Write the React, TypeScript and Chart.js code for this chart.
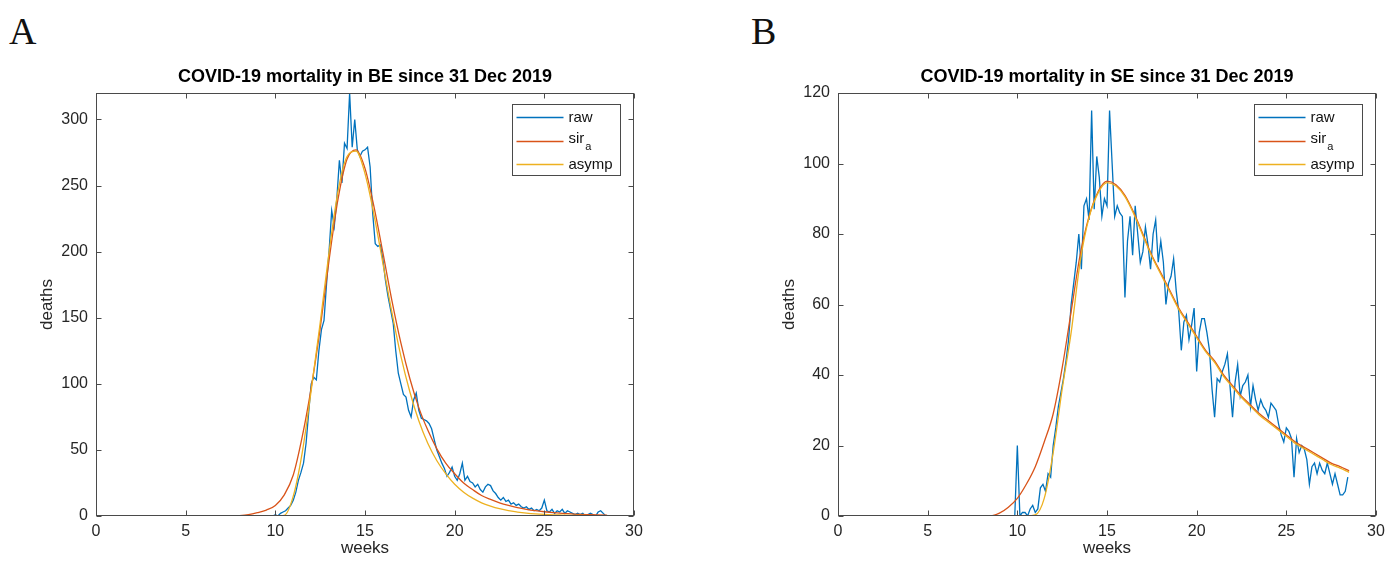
import React, { useEffect, useRef } from 'react';
import { Chart, registerables } from 'chart.js';

Chart.register(...registerables);

// ---------- data ----------
const xTicks = [0, 5, 10, 15, 20, 25, 30];
const beYTicks = [0, 50, 100, 150, 200, 250, 300];
const seYTicks = [0, 20, 40, 60, 80, 100, 120];
const beYMax = 320;
const seYMax = 120;
const xMax = 30;

// raw daily deaths; first value is day 63 after 31 Dec 2019 (week 9)
const rawFirstDay = 63;
const beRaw = [
  0, 0, 0, 0, 0, 0, 0,
  1, 0, 2, 3, 4, 6, 8,
  12, 18, 27, 33, 40, 55, 78,
  100, 105, 103, 125, 141, 148, 176,
  201, 231, 219, 240, 269, 252, 282,
  278, 320, 279, 300, 277, 272, 276,
  277, 279, 264, 229, 206, 204, 205,
  194, 178, 166, 156, 146, 125, 108,
  100, 92, 90, 80, 75, 88, 93,
  80, 74, 73, 72, 70, 66, 58,
  50, 45, 40, 36, 30, 33, 37,
  30, 27, 32, 40, 27, 30, 26,
  25, 22, 24, 20, 18, 22, 24,
  23, 19, 17, 14, 12, 14, 11,
  12, 9, 10, 8, 9, 7, 6,
  7, 5, 6, 4, 5, 4, 6,
  12, 4, 3, 5, 2, 4, 3,
  5, 2, 4, 3, 2, 1, 2,
  1, 2, 0, 1, 2, 1, 0,
  3, 4, 2, 0,
];
const seRaw = [
  0, 0, 0, 0, 0, 0, 0,
  20, 0, 1, 1, 0, 2, 3,
  1, 2, 8, 9, 7, 12, 11,
  20, 25, 31, 35, 39, 44, 50,
  60, 66, 72, 80, 70, 88, 90,
  84, 115, 87, 102, 96, 85, 90,
  88, 115, 100, 85, 88, 86, 85,
  62, 78, 85, 74, 88, 80, 72,
  75, 82, 77, 70, 80, 84, 72,
  78, 72, 60, 66, 68, 73, 64,
  58, 47, 55, 57, 50, 54, 59,
  41, 52, 56, 56, 52, 47, 36,
  28, 39, 38, 41, 43, 46, 37,
  28, 38, 43, 34, 37, 38, 40,
  31, 37, 33, 30, 33, 31, 30,
  28, 32, 31, 30, 26, 23, 21,
  25, 24, 22, 11, 22, 18, 20,
  19, 16, 9, 14, 15, 12, 15,
  13, 12, 15, 12, 9, 12, 9,
  6, 6, 7, 11,
];

// fitted curves, sampled every half week from week 0 to 28.5
const fitStepWeeks = 0.5;
const beSir = [
  0, 0, 0, 0, 0, 0, 0, 0, 0, 0, 0, 0, 0, 0, 0, 0,
  0.3, 1, 2.5, 4.5, 8, 16, 31, 60, 97, 142, 194, 240, 270, 277, 263, 234,
  199, 163, 131, 104, 82, 65, 51, 40, 32, 25, 20, 15.5, 12.5, 10, 8, 6.3,
  5, 4, 3.2, 2.5, 2, 1.6, 1.2, 1, 0.8, 0.6,
];
const beAsymp = [
  0, 0, 0, 0, 0, 0, 0, 0, 0, 0, 0, 0, 0, 0, 0, 0, 0, 0, 0, 0, 0,
  0.5, 15, 48, 95, 146, 200, 246, 272, 276, 259, 228, 191, 154, 121, 94,
  72, 55, 42, 32, 24, 18, 13.5, 10, 7.5, 5.5, 4, 3, 2.2, 1.6, 1.2, 0.9,
  0.7, 0.5, 0.4, 0.3, 0.2, 0.15,
];
const seSir = [
  0, 0, 0, 0, 0, 0, 0, 0, 0, 0, 0, 0, 0, 0, 0, 0, 0, 0,
  0.8, 2.5, 5, 9, 14, 21, 29, 42, 58, 74, 85, 92, 95, 94, 91, 86, 80, 74,
  69, 64, 59, 55, 51, 47, 44, 40, 37, 34, 31.5, 29, 27, 25, 23, 21, 19.5,
  18, 16.5, 15, 14, 12.8,
];
const seAsymp = [
  0, 0, 0, 0, 0, 0, 0, 0, 0, 0, 0, 0, 0, 0, 0, 0, 0, 0, 0, 0, 0, 0,
  0.3, 5, 18, 36, 52, 72, 84.7, 91.6, 94.6, 93.6, 90.6, 85.6, 79.6, 73.6,
  68.6, 63.6, 58.6, 54.6, 50.6, 46.6, 43.6, 39.6, 36.6, 33.6, 31.1, 28.6, 26.6, 24.6, 22.6, 20.6, 19.1,
  17.6, 16.1, 14.6, 13.6, 12.4,
];

const seriesLabels = ['raw', 'sir_a', 'asymp'];
const seriesColors = ['#0072BD', '#D95319', '#EDB120'];

// ---------- style ----------
const FONT = "'Liberation Sans', Arial, Helvetica, sans-serif";
const AXIS_COLOR = '#4a4a4a';
const TEXT_COLOR = '#262626';
const TICK_LEN = 5;

const frameLegendPlugin = {
  id: 'frameLegend',
  afterDatasetsDraw(chart: any, _args: any, opts: any) {
    const { ctx, chartArea } = chart;
    const { left, right, top, bottom } = chartArea;
    const xs = chart.scales.x;
    const ys = chart.scales.y;
    ctx.save();
    ctx.strokeStyle = AXIS_COLOR;
    ctx.lineWidth = 1;
    const L = Math.round(left) + 0.5;
    const R = Math.round(right) - 0.5;
    const T = Math.round(top) + 0.5;
    const B = Math.round(bottom) - 0.5;
    ctx.strokeRect(L, T, R - L, B - T);
    ctx.beginPath();
    for (const v of opts.xTicks) {
      const px = Math.round(xs.getPixelForValue(v)) + 0.5;
      ctx.moveTo(px, B);
      ctx.lineTo(px, B - TICK_LEN);
      ctx.moveTo(px, T);
      ctx.lineTo(px, T + TICK_LEN);
    }
    for (const v of opts.yTicks) {
      const py = Math.round(ys.getPixelForValue(v)) + 0.5;
      ctx.moveTo(L, py);
      ctx.lineTo(L + TICK_LEN, py);
      ctx.moveTo(R, py);
      ctx.lineTo(R - TICK_LEN, py);
    }
    ctx.stroke();

    // legend box
    const bx = Math.round(right - 122) + 0.5;
    const by = Math.round(top + 11) + 0.5;
    const bw = 108;
    const bh = 71;
    ctx.fillStyle = '#ffffff';
    ctx.fillRect(bx, by, bw, bh);
    ctx.strokeStyle = AXIS_COLOR;
    ctx.strokeRect(bx, by, bw, bh);
    const rows = [13, 37, 60];
    chart.data.datasets.forEach((ds: any, i: number) => {
      const yy = by + rows[i];
      ctx.strokeStyle = ds.borderColor;
      ctx.lineWidth = 1.5;
      ctx.beginPath();
      ctx.moveTo(bx + 4, yy);
      ctx.lineTo(bx + 51, yy);
      ctx.stroke();
      ctx.fillStyle = '#111';
      ctx.textBaseline = 'middle';
      ctx.textAlign = 'left';
      const [main, sub] = String(ds.label).split('_');
      ctx.font = `15px ${FONT}`;
      const tx = bx + 56;
      if (sub) {
        ctx.fillText(main, tx, yy - 3);
        const w = ctx.measureText(main).width;
        ctx.font = `11px ${FONT}`;
        ctx.fillText(sub, tx + w + 1, yy + 5);
      } else {
        ctx.fillText(main, tx, yy);
      }
    });
    ctx.restore();
  },
};

type PanelProps = {
  letter: string;
  left: number;
  width: number;
  title: string;
  yMax: number;
  yTicks: number[];
  raw: number[];
  sir: number[];
  asymp: number[];
};

const HEIGHT = 569;

function Panel(props: PanelProps) {
  const ref = useRef<HTMLCanvasElement | null>(null);
  useEffect(() => {
    const canvas = ref.current;
    if (!canvas) return;
    const rawPts = [{ x: 0, y: 0 }].concat(
      props.raw.map((v, i) => ({ x: (rawFirstDay + i) / 7, y: v }))
    );
    const sirPts = props.sir.map((v, i) => ({ x: i * fitStepWeeks, y: v }));
    const asyPts = props.asymp.map((v, i) => ({ x: i * fitStepWeeks, y: v }));
    const chart = new Chart(canvas, {
      type: 'line',
      data: {
        datasets: [
          { label: seriesLabels[0], data: rawPts, borderColor: seriesColors[0], borderWidth: 1.3, pointRadius: 0, tension: 0, order: 3 },
          { label: seriesLabels[1], data: sirPts, borderColor: seriesColors[1], borderWidth: 1.3, pointRadius: 0, cubicInterpolationMode: 'monotone', order: 2 },
          { label: seriesLabels[2], data: asyPts, borderColor: seriesColors[2], borderWidth: 1.3, pointRadius: 0, cubicInterpolationMode: 'monotone', order: 1 },
        ],
      },
      options: {
        responsive: false,
        animation: false,
        devicePixelRatio: 1,
        layout: { padding: { left: 37.4, right: props.width - 634, top: 66, bottom: 10.4 } },
        plugins: {
          legend: { display: false },
          tooltip: { enabled: false },
          title: {
            display: true,
            text: props.title,
            fullSize: false,
            color: '#000',
            font: { family: FONT, size: 18, weight: 'bold' },
            padding: { top: 0, bottom: 5.4 },
          },
          frameLegend: { xTicks, yTicks: props.yTicks },
        } as any,
        scales: {
          x: {
            type: 'linear',
            min: 0,
            max: xMax,
            grid: { display: false, drawTicks: false },
            border: { display: false },
            afterBuildTicks: (s: any) => { s.ticks = xTicks.map((v) => ({ value: v })); },
            afterFit: (s: any) => { s.height = 42.6; },
            ticks: { color: TEXT_COLOR, font: { family: FONT, size: 16 }, padding: 6, maxRotation: 0 },
            title: { display: true, text: 'weeks', color: TEXT_COLOR, font: { family: FONT, size: 17 }, padding: 0 },
          },
          y: {
            type: 'linear',
            min: 0,
            max: props.yMax,
            grid: { display: false, drawTicks: false },
            border: { display: false },
            afterBuildTicks: (s: any) => { s.ticks = props.yTicks.map((v) => ({ value: v })); },
            afterFit: (s: any) => { s.width = 58.6; },
            ticks: { color: TEXT_COLOR, font: { family: FONT, size: 16 }, padding: 8 },
            title: { display: true, text: 'deaths', color: TEXT_COLOR, font: { family: FONT, size: 17 }, padding: 0 },
          },
        },
      } as any,
      plugins: [frameLegendPlugin as any],
    });
    return () => chart.destroy();
  }, []);

  return (
    <div style={{ position: 'absolute', left: props.left, top: 0, width: props.width, height: HEIGHT }}>
      <div
        style={{
          position: 'absolute',
          left: 9,
          top: 12,
          fontFamily: "'Liberation Serif', 'DejaVu Serif', serif",
          fontSize: 38,
          lineHeight: '38px',
          color: '#111',
        }}
      >
        {props.letter}
      </div>
      <canvas
        ref={ref}
        width={props.width}
        height={HEIGHT}
        style={{ position: 'absolute', left: 0, top: 0, width: props.width, height: HEIGHT }}
      />
    </div>
  );
}

export default function App() {
  return (
    <div style={{ position: 'fixed', left: 0, top: 0, width: 1397, height: HEIGHT, background: '#fff', overflow: 'hidden' }}>
      <Panel
        letter="A"
        left={0}
        width={742}
        title="COVID-19 mortality in BE since 31 Dec 2019"
        yMax={beYMax}
        yTicks={beYTicks}
        raw={beRaw}
        sir={beSir}
        asymp={beAsymp}
      />
      <Panel
        letter="B"
        left={742}
        width={655}
        title="COVID-19 mortality in SE since 31 Dec 2019"
        yMax={seYMax}
        yTicks={seYTicks}
        raw={seRaw}
        sir={seSir}
        asymp={seAsymp}
      />
    </div>
  );
}
